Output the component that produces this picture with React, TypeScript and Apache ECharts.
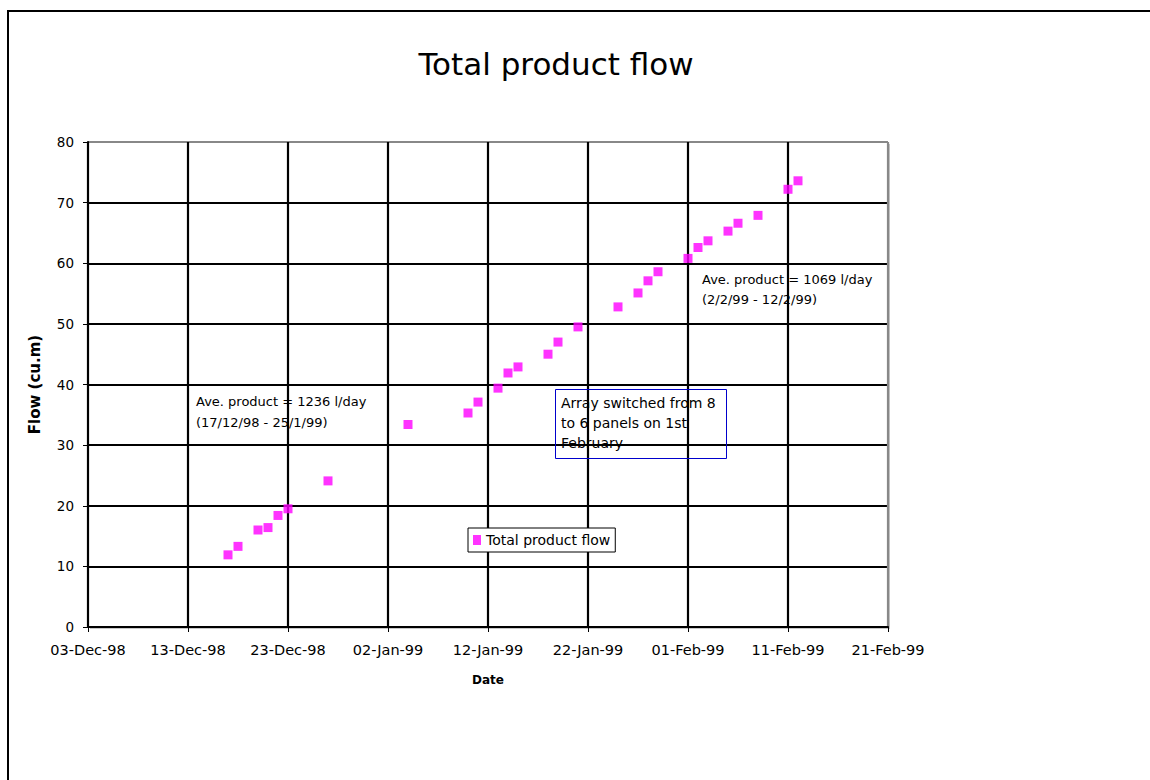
import React, { useEffect, useRef } from 'react';
import * as echarts from 'echarts';

const sampleDates = [
  '1998-12-17', '1998-12-18', '1998-12-20', '1998-12-21', '1998-12-22', '1998-12-23',
  '1998-12-27', '1999-01-04', '1999-01-10', '1999-01-11', '1999-01-13', '1999-01-14',
  '1999-01-15', '1999-01-18', '1999-01-19', '1999-01-21', '1999-01-25', '1999-01-27',
  '1999-01-28', '1999-01-29', '1999-02-01', '1999-02-02', '1999-02-03', '1999-02-05',
  '1999-02-06', '1999-02-08', '1999-02-11', '1999-02-12',
];
const totalFlow = [
  11.9, 13.3, 16.0, 16.4, 18.4, 19.5,
  24.1, 33.4, 35.3, 37.1, 39.4, 41.9,
  42.9, 45.0, 47.0, 49.5, 52.8, 55.1,
  57.1, 58.6, 60.8, 62.6, 63.7, 65.3,
  66.6, 67.9, 72.2, 73.6,
];
const xTickLabels = [
  '03-Dec-98', '13-Dec-98', '23-Dec-98', '02-Jan-99', '12-Jan-99',
  '22-Jan-99', '01-Feb-99', '11-Feb-99', '21-Feb-99',
];
const BASE_DATE = '1998-12-03';
const DAY_STEP = 10;

const FONT = 'DejaVu Sans';

export default function App() {
  const ref = useRef<HTMLDivElement>(null);
  useEffect(() => {
    if (!ref.current) return;
    const chart = echarts.init(ref.current, undefined, { renderer: 'svg' });
    const base = Date.parse(BASE_DATE + 'T00:00:00Z');
    const data = sampleDates.map((d, i) => [
      Math.round((Date.parse(d + 'T00:00:00Z') - base) / 86400000),
      totalFlow[i],
    ]);
    const gridLeft = 88, gridTop = 142, gridW = 800, gridH = 485;
    const xColors = xTickLabels.map((_, i) => (i === xTickLabels.length - 1 ? '#888' : '#000'));
    const yColors = Array.from({ length: 9 }, (_, i) => (i === 8 ? '#888' : '#000'));
    chart.setOption({
      animation: false,
      backgroundColor: '#fff',
      textStyle: { fontFamily: FONT },
      title: {
        text: 'Total product flow',
        left: 551,
        top: 43,
        textAlign: 'center',
        textStyle: { fontFamily: FONT, fontSize: 31, fontWeight: 'normal', color: '#000' },
      },
      legend: {
        left: 468,
        top: 528,
        orient: 'horizontal',
        backgroundColor: '#fff',
        borderColor: '#000',
        borderWidth: 1,
        borderRadius: 0,
        padding: [5, 5, 5, 5],
        itemWidth: 8,
        itemHeight: 10,
        itemGap: 5,
        icon: 'rect',
        textStyle: { fontFamily: FONT, fontSize: 14, color: '#000' },
        data: ['Total product flow'],
      },
      grid: {
        left: gridLeft,
        top: gridTop,
        width: gridW,
        height: gridH,
        show: true,
        backgroundColor: '#fff',
        borderWidth: 0,
        containLabel: false,
      },
      xAxis: {
        type: 'value',
        min: 0,
        max: (xTickLabels.length - 1) * DAY_STEP,
        interval: DAY_STEP,
        name: 'Date',
        nameLocation: 'middle',
        nameGap: 47,
        nameTextStyle: { fontFamily: FONT, fontSize: 12, fontWeight: 'bold', color: '#000' },
        axisLine: { show: true, onZero: false, lineStyle: { color: '#000', width: 2 } },
        axisTick: { show: true, length: 5, lineStyle: { color: '#000', width: 1 } },
        axisLabel: {
          margin: 15,
          fontFamily: FONT,
          fontSize: 14.5,
          color: '#000',
          formatter: (v: number) => xTickLabels[Math.round(v / DAY_STEP)] ?? '',
        },
        splitLine: { show: true, lineStyle: { color: xColors, width: 2.2 } },
      },
      yAxis: {
        type: 'value',
        min: 0,
        max: 80,
        interval: 10,
        name: 'Flow (cu.m)',
        nameLocation: 'middle',
        nameGap: 46,
        nameTextStyle: { fontFamily: FONT, fontSize: 15, fontWeight: 'bold', color: '#000' },
        axisLine: { show: true, lineStyle: { color: '#000', width: 2 } },
        axisTick: { show: true, length: 5, lineStyle: { color: '#000', width: 1 } },
        axisLabel: { margin: 14, fontFamily: FONT, fontSize: 13.5, color: '#000' },
        splitLine: { show: true, lineStyle: { color: yColors, width: 2.2 } },
      },
      series: [
        {
          name: 'Total product flow',
          type: 'scatter',
          symbol: 'rect',
          symbolSize: 9,
          itemStyle: { color: '#ff00ff' },
          data,
          z: 5,
        },
      ],
      graphic: [
        {
          type: 'rect',
          z: -1,
          silent: true,
          shape: { x: gridLeft + 2, y: gridTop + 2, width: gridW, height: gridH },
          style: { fill: '#c8c8c8' },
        },
        {
          type: 'rect',
          silent: true,
          shape: { x: 8, y: 11, width: 1400, height: 1000 },
          style: { fill: 'none', stroke: '#000', lineWidth: 2 },
        },
        {
          type: 'text',
          silent: true,
          z: 10,
          style: {
            text: 'Ave. product = 1236 l/day\n(17/12/98 - 25/1/99)',
            x: 196,
            y: 391,
            fill: '#000',
            fontFamily: FONT,
            fontSize: 13,
            lineHeight: 21,
          },
        },
        {
          type: 'text',
          silent: true,
          z: 10,
          style: {
            text: 'Ave. product = 1069 l/day\n(2/2/99 - 12/2/99)',
            x: 702,
            y: 269,
            fill: '#000',
            fontFamily: FONT,
            fontSize: 13,
            lineHeight: 20,
          },
        },
        {
          type: 'rect',
          silent: true,
          z: 10,
          shape: { x: 555.5, y: 389.5, width: 171, height: 69 },
          style: { fill: 'none', stroke: '#0000cc', lineWidth: 1 },
        },
        {
          type: 'text',
          silent: true,
          z: 10,
          style: {
            text: 'Array switched from 8\nto 6 panels on 1st\nFebruary',
            x: 561,
            y: 393,
            fill: '#000',
            fontFamily: FONT,
            fontSize: 14,
            lineHeight: 20,
          },
        },
      ],
    });
    return () => chart.dispose();
  }, []);
  return (
    <div
      ref={ref}
      style={{ position: 'fixed', left: 0, top: 0, width: 1150, height: 780 }}
    />
  );
}
